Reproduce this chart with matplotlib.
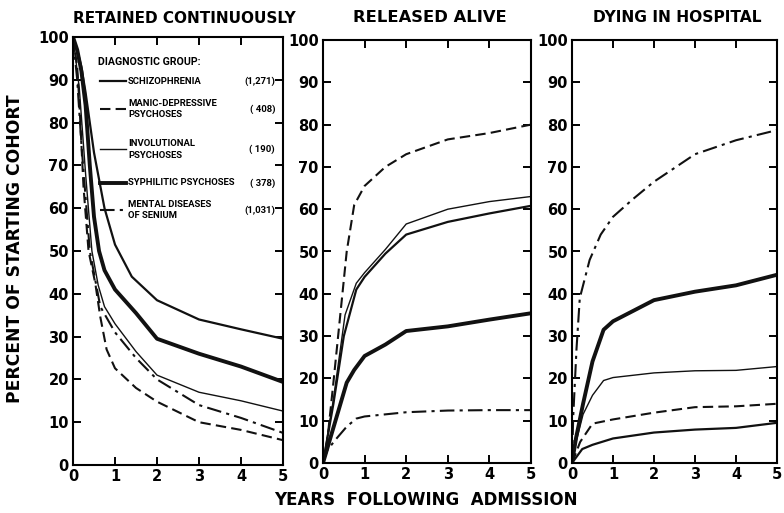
import matplotlib
matplotlib.use('Agg')
import matplotlib.pyplot as plt

# ---- data (years, percent of cohort) ----
groups = ['SCHIZOPHRENIA', 'MANIC-DEPRESSIVE\nPSYCHOSES', 'INVOLUTIONAL\nPSYCHOSES',
          'SYPHILITIC PSYCHOSES', 'MENTAL DISEASES\nOF SENIUM']
counts = ['(1,271)', '( 408)', '( 190)', '( 378)', '(1,031)']
panel_titles = ['RETAINED CONTINUOUSLY', 'RELEASED ALIVE', 'DYING IN HOSPITAL']

# retained continuously
ret_schiz_x = [0, 0.1, 0.2, 0.3, 0.4, 0.5, 0.75, 1, 1.4, 2, 3, 4, 5]
ret_schiz_y = [100, 97, 93, 87, 80, 73, 60, 51.5, 44, 38.5, 34, 31.7, 29.5]
ret_manic_x = [0, 0.1, 0.15, 0.25, 0.37, 0.53, 0.65, 0.8, 1, 1.5, 2, 3, 4, 5]
ret_manic_y = [100, 93, 85, 65, 50, 42.5, 34.6, 27, 22.6, 18, 14.8, 10, 8.2, 5.8]
ret_invol_x = [0, 0.15, 0.3, 0.45, 0.6, 0.75, 1, 1.5, 2, 3, 4, 5]
ret_invol_y = [100, 88, 68, 50, 42, 37, 33, 26.5, 21, 17, 15, 12.6]
ret_syph_x = [0, 0.1, 0.2, 0.3, 0.4, 0.5, 0.62, 0.75, 1, 1.5, 2, 3, 4, 5]
ret_syph_y = [100, 97, 92, 84, 70, 58, 50, 45.5, 41, 35.5, 29.5, 26, 23, 19.4]
ret_sen_x = [0, 0.1, 0.2, 0.4, 0.65, 1, 1.5, 2, 3, 4, 5]
ret_sen_y = [100, 90, 75, 50, 37, 31, 25, 20, 14, 11, 7.5]

# released alive
rel_schiz_x = [0, 0.25, 0.5, 0.8, 1, 1.5, 2, 3, 4, 5]
rel_schiz_y = [0, 14, 30, 41, 44, 49.5, 54, 57, 59, 60.8]
rel_manic_x = [0, 0.1, 0.25, 0.57, 0.75, 1, 1.5, 2, 3, 4, 5]
rel_manic_y = [0, 5, 19, 50, 61, 65.5, 70, 73, 76.5, 78, 80]
rel_invol_x = [0, 0.25, 0.53, 0.8, 1, 1.5, 2, 3, 4, 5]
rel_invol_y = [0, 15, 35, 42.5, 45, 50.5, 56.5, 60, 61.8, 63]
rel_syph_x = [0, 0.15, 0.33, 0.57, 0.75, 1, 1.5, 2, 3, 4, 5]
rel_syph_y = [0, 5, 11, 19, 22, 25.3, 28, 31.2, 32.3, 33.9, 35.4]
rel_sen_x = [0, 0.1, 0.3, 0.57, 0.8, 1, 2, 3, 4, 5]
rel_sen_y = [0, 3, 5.5, 8.6, 10.5, 11, 12, 12.4, 12.5, 12.5]

# dying in hospital
die_schiz_x = [0, 0.25, 0.5, 1, 2, 3, 4, 5]
die_schiz_y = [0, 3.3, 4.3, 5.8, 7.2, 7.9, 8.3, 9.5]
die_manic_x = [0, 0.2, 0.5, 1, 2, 3, 4, 5]
die_manic_y = [0, 5, 9.3, 10.3, 11.9, 13.2, 13.4, 14]
die_invol_x = [0, 0.1, 0.27, 0.5, 0.77, 1, 2, 3, 4, 5]
die_invol_y = [0, 5, 11.5, 16, 19.5, 20.2, 21.3, 21.8, 21.9, 22.8]
die_syph_x = [0, 0.1, 0.27, 0.5, 0.77, 1, 1.5, 2, 3, 4, 5]
die_syph_y = [0, 6, 14, 24, 31.5, 33.5, 36, 38.5, 40.5, 42, 44.5]
die_sen_x = [0, 0.03, 0.11, 0.19, 0.43, 0.7, 1, 1.5, 2, 3, 4, 5]
die_sen_y = [0, 11, 27, 39, 48, 54, 58.2, 62.5, 66.5, 73, 76.3, 78.7]

# line style per group: schizophrenia, manic, involutional, syphilitic, senium
styles = [dict(ls='-', lw=1.6),
          dict(ls=(0, (5, 2.5)), lw=1.5),
          dict(ls='-', lw=1.0),
          dict(ls='-', lw=2.8),
          dict(ls=(0, (7, 2.5, 1.5, 2.5)), lw=1.5)]

panels = [
    [(ret_schiz_x, ret_schiz_y), (ret_manic_x, ret_manic_y), (ret_invol_x, ret_invol_y),
     (ret_syph_x, ret_syph_y), (ret_sen_x, ret_sen_y)],
    [(rel_schiz_x, rel_schiz_y), (rel_manic_x, rel_manic_y), (rel_invol_x, rel_invol_y),
     (rel_syph_x, rel_syph_y), (rel_sen_x, rel_sen_y)],
    [(die_schiz_x, die_schiz_y), (die_manic_x, die_manic_y), (die_invol_x, die_invol_y),
     (die_syph_x, die_syph_y), (die_sen_x, die_sen_y)],
]

plt.rcParams['font.family'] = ['DejaVu Sans']
fig = plt.figure(figsize=(7.84, 5.13), dpi=100)

# axes boxes in pixels (left, top, right, bottom)
boxes = [(73, 37, 283, 465), (323, 40, 531, 463), (572, 40, 777, 463)]
title_pos = [(184, 19), (430, 17), (677, 17)]
title_size = [11, 11.8, 11.2]
W, H = 784.0, 513.0

for i, (l, t, r, b) in enumerate(boxes):
    ax = fig.add_axes([l / W, (H - b) / H, (r - l) / W, (b - t) / H])
    for (xs, ys), st in zip(panels[i], styles):
        ax.plot(xs, ys, color='#111111', solid_capstyle='butt', **st)
    ax.set_xlim(0, 5)
    ax.set_ylim(0, 100)
    ax.set_xticks(range(6))
    ax.set_yticks(range(0, 101, 10))
    ax.tick_params(direction='in', length=6, width=1.4, top=True, right=True,
                   labelsize=10.5, pad=3)
    for lab in ax.get_xticklabels() + ax.get_yticklabels():
        lab.set_fontweight('bold')
    for sp in ax.spines.values():
        sp.set_linewidth(1.5)
    fig.text(title_pos[i][0] / W, 1 - title_pos[i][1] / H, panel_titles[i],
             ha='center', va='center', fontsize=title_size[i], fontweight='bold')

    if i == 0:
        # hand-drawn legend, like the original
        lf = dict(family=['Roboto', 'DejaVu Sans'], fontweight='bold',
                  fontsize=6.8, transform=ax.transAxes)
        ax.text(0.12, 0.942, 'DIAGNOSTIC GROUP:', va='center', ha='left',
                family=['Roboto', 'DejaVu Sans'], fontweight='bold', fontsize=7.6,
                transform=ax.transAxes)
        rows = [0.897, 0.832, 0.738, 0.659, 0.596]
        for yy, name, cnt, st in zip(rows, groups, counts, styles):
            ax.plot([0.13, 0.25], [yy, yy], color='#111111', transform=ax.transAxes, **st)
            ax.text(0.262, yy, name, va='center', ha='left', linespacing=1.4, **lf)
            ax.text(0.962, yy, cnt, va='center', ha='right', **lf)

fig.text(15 / W, 1 - 249 / H, 'PERCENT OF STARTING COHORT', rotation=90,
         ha='center', va='center', fontsize=12.3, fontweight='bold')
fig.text(426 / W, 1 - 500 / H, 'YEARS  FOLLOWING  ADMISSION',
         ha='center', va='center', fontsize=12, fontweight='bold')

fig.savefig('out.png', dpi=100)
